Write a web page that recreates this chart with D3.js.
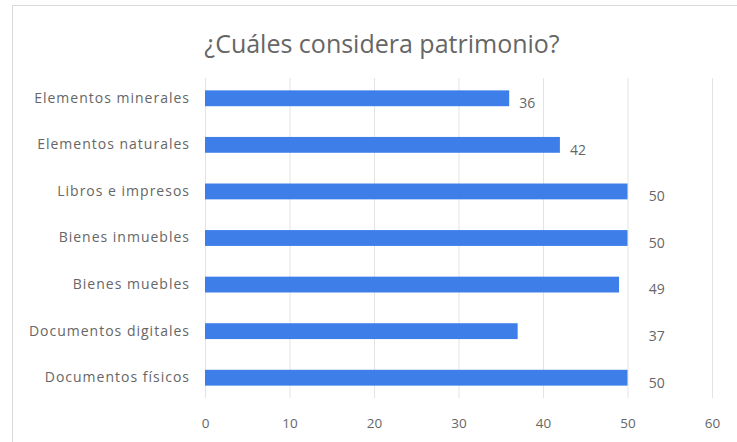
<!DOCTYPE html>
<html><head><meta charset="utf-8">
<script src="https://cdn.jsdelivr.net/npm/d3@7"></script>
<style>body{margin:0;background:#fff}svg{display:block}</style>
</head><body>
<script>
const title = "¿Cuáles considera patrimonio?";
const categories = ["Elementos minerales","Elementos naturales","Libros e impresos","Bienes inmuebles","Bienes muebles","Documentos digitales","Documentos físicos"];
const values = [36, 42, 50, 50, 49, 37, 50];
const ticks = [0, 10, 20, 30, 40, 50, 60];

const W = 737, H = 442;
const svg = d3.select("body").append("svg").attr("width", W).attr("height", H);
svg.append("rect").attr("x", 12.5).attr("y", 5.5).attr("width", 740).attr("height", 450)
  .attr("fill", "#fff").attr("stroke", "#d9d9d9");

const x = d3.scaleLinear().domain([0, 60]).range([205, 712]);
const y = d3.scaleBand().domain(categories).range([75, 401]).paddingInner(0.66).paddingOuter(0.33);

svg.append("text").attr("x", 382).attr("y", 53).attr("text-anchor", "middle")
  .attr("font-family", "Open Sans").attr("font-size", 25).attr("fill", "#666").text(title);

const g = svg.append("g");
g.selectAll("line.grid").data(ticks).join("line").attr("class","grid")
  .attr("x1", d => x(d) + 0.5).attr("x2", d => x(d) + 0.5)
  .attr("y1", 78).attr("y2", 398).attr("stroke", "#e3e3e3").attr("stroke-width", 1);

const xAxis = d3.axisBottom(x).tickValues(ticks).tickSize(0).tickPadding(0);
const ax = svg.append("g").attr("transform", "translate(0,423)").call(xAxis);
ax.select(".domain").remove();
ax.selectAll("text").attr("font-family", "Open Sans").attr("font-size", 13.5).attr("fill", "#666").attr("dy", "0.35em");

const yAxis = d3.axisLeft(y).tickSize(0).tickPadding(0);
const ay = svg.append("g").attr("transform", "translate(190,0)").call(yAxis);
ay.select(".domain").remove();
ay.selectAll("text").attr("font-family", "Open Sans").attr("font-size", 14).attr("fill", "#666").attr("letter-spacing", "1");

g.selectAll("rect.bar").data(values).join("rect").attr("class","bar")
  .attr("x", x(0)).attr("y", (d,i) => y(categories[i]))
  .attr("width", d => x(d) - x(0)).attr("height", y.bandwidth())
  .attr("fill", "#3d7ee8");

g.selectAll("text.lbl").data(values).join("text").attr("class","lbl")
  .attr("x", (d,i) => i < 2 ? x(d) + 10 : x(52.5))
  .attr("y", (d,i) => y(categories[i]) + y.bandwidth()/2 + 5)
  .attr("dy", "0.35em")
  .attr("font-family", "Open Sans").attr("font-size", 14).attr("fill", "#666")
  .text(d => d);
</script>
</body></html>
